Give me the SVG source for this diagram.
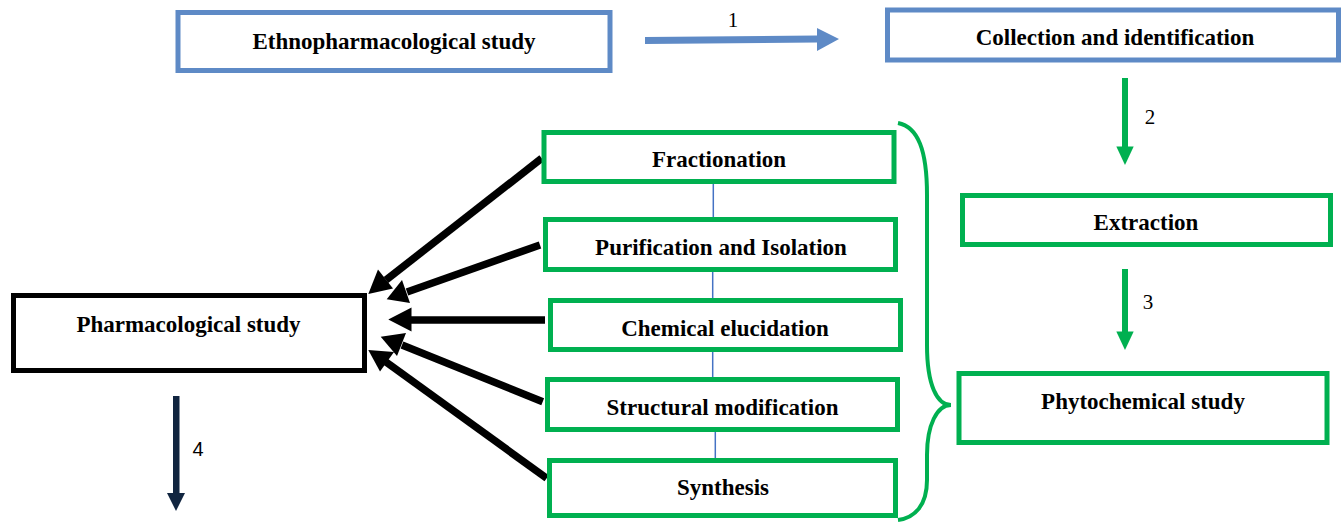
<svg xmlns="http://www.w3.org/2000/svg" width="1341" height="525" viewBox="0 0 1341 525">
<defs>
<style>
.bx{fill:#fff;stroke-width:5}
.blue{stroke:#5e8ac6}
.green{stroke:#00b050}
.black{stroke:#000}
.t{font-family:"Liberation Serif","Times New Roman",serif;font-weight:bold;font-size:23px;fill:#000;text-anchor:middle}
.n{font-family:"Liberation Serif","Times New Roman",serif;font-size:21px;fill:#000;text-anchor:middle}
.ns{font-family:"Liberation Sans",Arial,sans-serif;font-size:20px;fill:#000;text-anchor:middle}
</style>
</defs>
<rect width="1341" height="525" fill="#fff"/>
<g id="connectors">
<line x1="713.3" y1="184" x2="713.3" y2="217" stroke="#4472c4" stroke-width="1.5"/>
<line x1="712.7" y1="272" x2="712.7" y2="298" stroke="#4472c4" stroke-width="1.5"/>
<line x1="712.7" y1="352" x2="712.7" y2="377" stroke="#4472c4" stroke-width="1.5"/>
<line x1="715.3" y1="432" x2="715.3" y2="458" stroke="#4472c4" stroke-width="1.5"/>
<g id="arrow1">
<polygon points="645,37 817,35.5 817,28 839,39 817,51 817,42.5 645,44" fill="#5e8ac6"/>
<text class="n" x="733" y="27">1</text>
</g>
<g id="arrow2">
<rect x="1122" y="78" width="6" height="69" fill="#00b050"/>
<polygon points="1116.3,146.5 1133.7,146.5 1125,165" fill="#00b050"/>
<text class="n" x="1150" y="124">2</text>
</g>
<g id="arrow3">
<rect x="1122" y="269" width="6" height="63" fill="#00b050"/>
<polygon points="1116.3,331.5 1133.7,331.5 1125,350" fill="#00b050"/>
<text class="n" x="1148" y="309">3</text>
</g>
<g id="arrow4">
<rect x="173" y="396" width="6.5" height="98" fill="#112540"/>
<polygon points="167,493 185,493 176,511" fill="#112540"/>
<text class="ns" x="198" y="456">4</text>
</g>
<g id="blackArrows" fill="#000">
<line x1="541.7" y1="158.3" x2="386" y2="280" stroke="#000" stroke-width="7.5"/>
<polygon points="368.3,294 378,269.5 393,288.5"/>
<line x1="540" y1="245" x2="407" y2="292" stroke="#000" stroke-width="7.5"/>
<polygon points="386.7,299.3 402,280 410,303"/>
<line x1="545" y1="320" x2="409" y2="320" stroke="#000" stroke-width="7.5"/>
<polygon points="388.3,319.5 411.5,307.5 411.5,331.5"/>
<line x1="542.7" y1="401.7" x2="402" y2="345" stroke="#000" stroke-width="7.5"/>
<polygon points="380.7,336.7 406,333 397,356"/>
<line x1="546.7" y1="478.3" x2="386" y2="362" stroke="#000" stroke-width="7.5"/>
<polygon points="368.3,350 394,352 380,371.5"/>
</g>
<path id="brace" d="M898,123 C918,127 927,150 927,195 L927,345 C927,385 937,405 951,405 C937,405 927,425 927,455 L927,480 C927,505 915,518 898,520" fill="none" stroke="#00b050" stroke-width="4"/>
</g>
<g id="ethno"><rect class="bx blue" x="178" y="12.5" width="432" height="58"/><text class="t" x="394" y="49">Ethnopharmacological study</text></g>
<g id="collection"><rect class="bx blue" x="887.5" y="10" width="451" height="50"/><text class="t" x="1115" y="45">Collection and identification</text></g>
<g id="extraction"><rect class="bx green" x="962.5" y="195.5" width="368" height="49"/><text class="t" x="1146" y="230">Extraction</text></g>
<g id="phyto"><rect class="bx green" x="959" y="373.5" width="368" height="69"/><text class="t" x="1143" y="409">Phytochemical study</text></g>
<g id="pharma"><rect class="bx black" x="13.5" y="295.5" width="351" height="75"/><text class="t" x="188.5" y="332">Pharmacological study</text></g>
<g id="fractionation"><rect class="bx green" x="544" y="132.5" width="350" height="49"/><text class="t" x="719" y="167">Fractionation</text></g>
<g id="purification"><rect class="bx green" x="545.5" y="219.5" width="350" height="50"/><text class="t" x="721" y="255">Purification and Isolation</text></g>
<g id="chemical"><rect class="bx green" x="550.5" y="300.5" width="350" height="49"/><text class="t" x="725" y="336">Chemical elucidation</text></g>
<g id="structural"><rect class="bx green" x="547.5" y="379.5" width="350" height="50"/><text class="t" x="722.5" y="415">Structural modification</text></g>
<g id="synthesis"><rect class="bx green" x="549.5" y="460.5" width="346" height="55"/><text class="t" x="723" y="495">Synthesis</text></g>
</svg>
